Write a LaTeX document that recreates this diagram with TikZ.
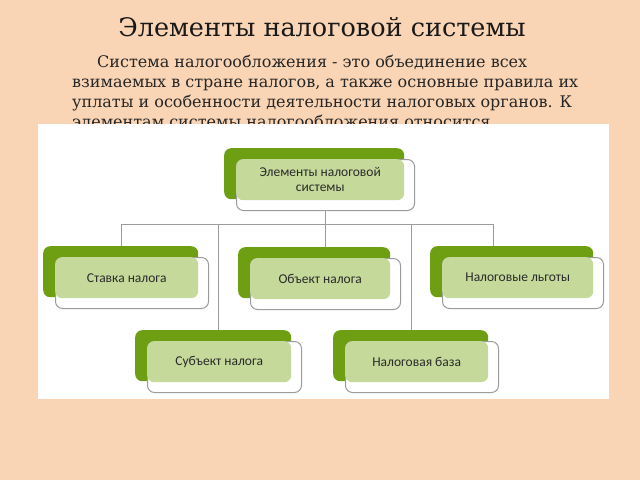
\documentclass[tikz,border=0pt]{standalone}
\usepackage{fontspec}
\setmainfont{DejaVu Serif}
\newfontfamily\boxfont{Carlito}
\usetikzlibrary{positioning}
\definecolor{peach}{HTML}{FAD5B5}
\definecolor{leafdark}{HTML}{6E9F12}
\definecolor{leaflight}{HTML}{C4D99A}
\definecolor{rimgray}{HTML}{9C9C9C}
\definecolor{inkgray}{HTML}{2A2A2A}

\begin{document}
\begin{tikzpicture}%
		[
			x=1pt, y=-1pt,
			headline/.style={font={\fontsize{25.5}{30}\selectfont}, text=black!90},
			para/.style={font={\fontsize{16}{19.8}\selectfont}, text=black!85, align=left, inner sep=0, anchor=base west},
			board/.style={fill=white, inner sep=0, anchor=north west, minimum width=571pt, minimum height=275pt},
			darkpart/.style={fill=leafdark, rounded corners=7pt, inner sep=0, anchor=north west, minimum height=51pt},
			rimpart/.style={draw=rimgray, fill=white, line width=1pt, rounded corners=7pt, inner sep=0, minimum height=51pt},
			lightpart/.style={fill=leaflight, rounded corners=7pt, inner sep=0, minimum height=41pt,
				font={\boxfont\fontsize{13.5}{15}\selectfont}, text=inkgray, align=center},
			link/.style={draw=rimgray, line width=0.9pt},
		]
		\fill[peach] (0,0) rectangle (640,480);
		\useasboundingbox (0,0) rectangle (640,480);

		\node[headline] (title) at (322,27) {Элементы налоговой системы};
		% base of this node is the base of its last line
		\node[para] (intro) at (72,127) {\hspace*{25pt}Система налогообложения - это объединение всех\\
			взимаемых в стране налогов, а также основные правила их\\
			уплаты и особенности деятельности налоговых органов. К\\
			элементам системы налогообложения относится.};
		% the white sheet hides half of the last line
		\node[board] (sheet) at (38,124) {};

		\node[darkpart, minimum width=180pt] (topD) at (224,148) {};
		\node[rimpart, minimum width=178pt, below right=11pt and 12pt of topD.north west] (topR) {};
		\node[lightpart, minimum width=168pt, below right=11pt and 12pt of topD.north west] (top) {Элементы налоговой\\системы};

		\node[darkpart, minimum width=155pt] (stavkaD) at (43,246) {};
		\node[rimpart, minimum width=153pt, below right=11pt and 12pt of stavkaD.north west] (stavkaR) {};
		\node[lightpart, minimum width=143pt, below right=11pt and 12pt of stavkaD.north west] (stavka) {Ставка налога};

		\node[darkpart, minimum width=152pt] (obektD) at (238,247) {};
		\node[rimpart, minimum width=150pt, below right=11pt and 12pt of obektD.north west] (obektR) {};
		\node[lightpart, minimum width=140pt, below right=11pt and 12pt of obektD.north west] (obekt) {Объект налога};

		\node[darkpart, minimum width=163pt] (lgotyD) at (430,246) {};
		\node[rimpart, minimum width=161pt, below right=11pt and 12pt of lgotyD.north west] (lgotyR) {};
		\node[lightpart, minimum width=151pt, below right=11pt and 12pt of lgotyD.north west] (lgoty) {Налоговые льготы};

		\node[darkpart, minimum width=156pt] (subektD) at (135,330) {};
		\node[rimpart, minimum width=154pt, below right=11pt and 12pt of subektD.north west] (subektR) {};
		\node[lightpart, minimum width=144pt, below right=11pt and 12pt of subektD.north west] (subekt) {Субъект налога};

		\node[darkpart, minimum width=155pt] (bazaD) at (333,330) {};
		\node[rimpart, minimum width=153pt, below right=11pt and 12pt of bazaD.north west] (bazaR) {};
		\node[lightpart, minimum width=143pt, below right=11pt and 12pt of bazaD.north west] (baza) {Налоговая база};

		\coordinate (stavkaJ) at (121,224);
		\coordinate (subektJ) at (218,224);
		\coordinate (bazaJ) at (411,224);
		\coordinate (lgotyJ) at (493,224);

		\draw[link] (stavkaJ) -- (lgotyJ);
		\draw[link] (topR.south) -- (topR.south |- obektD.north);
		\draw[link] (stavkaJ) -- (stavkaJ |- stavkaD.north);
		\draw[link] (subektJ) -- (subektJ |- subektD.north);
		\draw[link] (bazaJ) -- (bazaJ |- bazaD.north);
		\draw[link] (lgotyJ) -- (lgotyJ |- lgotyD.north);
	\end{tikzpicture}
\end{document}
